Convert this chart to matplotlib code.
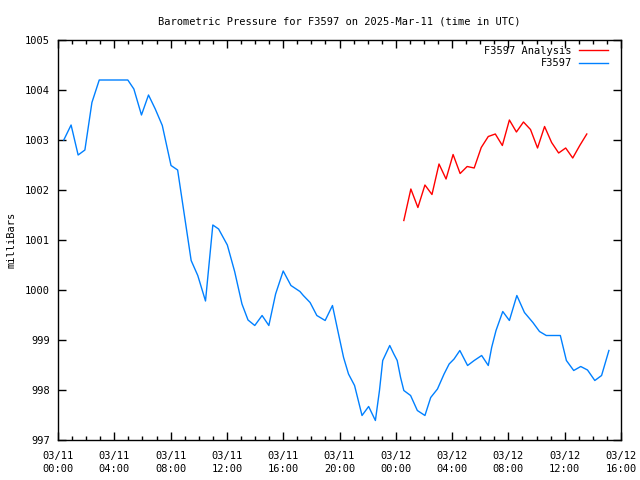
import matplotlib
matplotlib.use("Agg")
import matplotlib.pyplot as plt
import matplotlib.dates as mdates
from matplotlib.ticker import MultipleLocator, FormatStrFormatter
from datetime import datetime, timedelta

# Data: hours since 2025-03-11 00:00 UTC, pressure in millibars
obs_hours = [0.41, 0.93, 1.43, 1.91, 2.41, 2.93, 4.96, 5.39, 5.93, 6.43, 6.91, 7.41,
             8.03, 8.50, 9.46, 9.93, 10.48, 11.00, 11.41, 12.03, 12.55, 13.07, 13.50,
             13.98, 14.50, 14.98, 15.46, 16.00, 16.55, 17.19, 17.43, 17.91, 18.39,
             18.98, 19.50, 19.93, 20.29, 20.64, 21.07, 21.60, 22.07, 22.55, 22.84,
             23.07, 23.57, 23.86, 24.10, 24.34, 24.57, 25.05, 25.53, 26.07, 26.48,
             26.96, 27.43, 27.79, 28.14, 28.55, 29.10, 29.57, 30.10, 30.57, 30.81,
             31.12, 31.60, 32.07, 32.60, 33.14, 33.74, 34.21, 34.69, 35.69, 36.12,
             36.64, 37.14, 37.62, 38.14, 38.62, 39.14]
obs_mb = [1003.00, 1003.30, 1002.70, 1002.80, 1003.75, 1004.20, 1004.20, 1004.02,
          1003.50, 1003.90, 1003.62, 1003.29, 1002.49, 1002.40, 1000.59, 1000.29,
          999.78, 1001.30, 1001.22, 1000.90, 1000.37, 999.72, 999.40, 999.29, 999.49,
          999.29, 999.92, 1000.38, 1000.09, 999.97, 999.89, 999.75, 999.49, 999.39,
          999.69, 999.12, 998.65, 998.32, 998.09, 997.49, 997.67, 997.39, 997.99,
          998.59, 998.89, 998.72, 998.59, 998.25, 997.99, 997.89, 997.59, 997.49,
          997.85, 998.02, 998.32, 998.52, 998.62, 998.79, 998.49, 998.59, 998.69,
          998.49, 998.85, 999.19, 999.57, 999.39, 999.89, 999.55, 999.35, 999.17,
          999.09, 999.09, 998.59, 998.39, 998.47, 998.40, 998.19, 998.29, 998.79]

ana_hours = [24.57, 25.07, 25.57, 26.07, 26.57, 27.07, 27.57, 28.07, 28.57, 29.07,
             29.57, 30.07, 30.57, 31.07, 31.57, 32.07, 32.57, 33.07, 33.57, 34.07,
             34.57, 35.07, 35.57, 36.07, 36.57, 37.07, 37.57]
ana_mb = [1001.39, 1002.02, 1001.65, 1002.10, 1001.91, 1002.52, 1002.22, 1002.71,
          1002.33, 1002.47, 1002.44, 1002.85, 1003.07, 1003.12, 1002.89, 1003.40,
          1003.16, 1003.36, 1003.21, 1002.84, 1003.27, 1002.95, 1002.74, 1002.84,
          1002.64, 1002.89, 1003.12]

title = "Barometric Pressure for F3597 on 2025-Mar-11 (time in UTC)"
ylabel = "milliBars"
label_obs = "F3597"
label_ana = "F3597 Analysis"

base = datetime(2025, 3, 11, 0, 0)
obs_t = [base + timedelta(hours=h) for h in obs_hours]
ana_t = [base + timedelta(hours=h) for h in ana_hours]

plt.rcParams['font.family'] = ['DejaVu Sans Mono']
fs = 7.5

fig = plt.figure(figsize=(6.4, 4.8), dpi=100)
ax = fig.add_axes([58/640, 40/480, (621-58)/640, (440-40)/480])

l_obs, = ax.plot(obs_t, obs_mb, color='#0080ff', lw=1.0)
l_ana, = ax.plot(ana_t, ana_mb, color='#ff0000', lw=1.0)

ax.set_xlim(base, base + timedelta(hours=40))
ax.set_ylim(997, 1005)
ax.yaxis.set_major_locator(MultipleLocator(1))
ax.yaxis.set_major_formatter(FormatStrFormatter('%d'))
ax.xaxis.set_major_locator(mdates.HourLocator(byhour=range(0, 24, 4)))
ax.xaxis.set_minor_locator(mdates.HourLocator())
ax.xaxis.set_major_formatter(mdates.DateFormatter('%m/%d\n%H:%M'))

ax.tick_params(which='both', direction='in', top=True, right=True,
               labelsize=fs, width=1, colors='black')
ax.tick_params(which='major', length=6)
ax.tick_params(which='minor', length=3)
ax.tick_params(axis='x', which='major', pad=8)
ax.tick_params(axis='y', which='major', pad=6)
for lab in ax.get_xticklabels():
    lab.set_linespacing(1.3)
for s in ax.spines.values():
    s.set_linewidth(1.0)

ax.set_title(title, fontsize=fs, pad=11)
ax.set_ylabel(ylabel, fontsize=fs, labelpad=6)

ax.legend([l_ana, l_obs], [label_ana, label_obs], loc='upper right', frameon=False,
          markerfirst=False, fontsize=fs, handlelength=2.8, handletextpad=0.7,
          labelspacing=0.25, borderaxespad=0.4, borderpad=0.15,
          bbox_to_anchor=(1 - 7/563, 1))

fig.savefig('out.png', dpi=100)
